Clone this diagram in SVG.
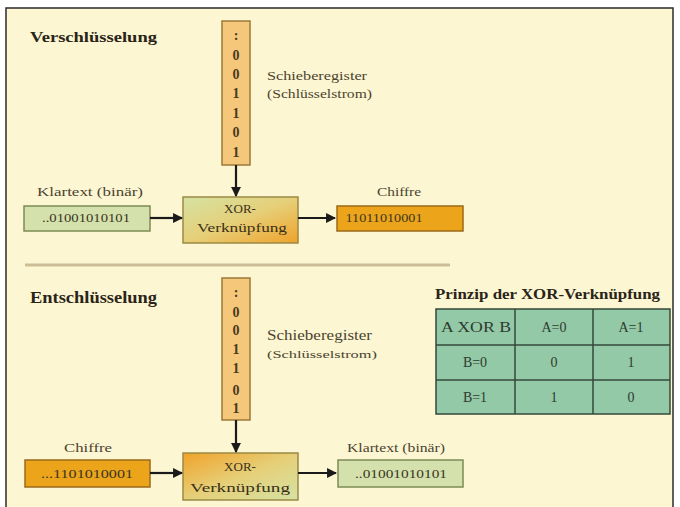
<svg xmlns="http://www.w3.org/2000/svg" width="680" height="507" viewBox="0 0 680 507">
<style>
text{font-family:"Liberation Serif","DejaVu Serif",serif;fill:#2a2418}
.h{font-weight:bold;font-size:15px}
.lbl{font-size:13px;fill:#4a4430}
.bin{font-size:12px;text-anchor:middle;fill:#3a3420}
.dig{font-size:14px;text-anchor:middle;font-weight:bold;fill:#4a3a20}
.reg{fill:#f5c77a;stroke:#9a7a3a;stroke-width:1.5}
.kl{fill:#d4e1ad;stroke:#7c8a55;stroke-width:1.5}
.ch{fill:#eca51b;stroke:#9a6a1a;stroke-width:1.5}
.xor{stroke:#9a8a45;stroke-width:1.5}
.xt{font-size:13px;text-anchor:middle;fill:#3a3018}
.tc{font-size:14px;text-anchor:middle;fill:#2f3a30}
.conn line{stroke:#1a1a1a;stroke-width:2.2}
</style>
<defs>
<marker id="ah" viewBox="0 0 10 10" refX="9" refY="5" markerWidth="4.5" markerHeight="4.5" orient="auto"><path d="M0,0L10,5L0,10z" fill="#1a1a1a"/></marker>
<linearGradient id="g1" x1="0" y1="0" x2="1" y2="1"><stop offset="0" stop-color="#d5e2a3"/><stop offset="0.5" stop-color="#e6cf78"/><stop offset="1" stop-color="#f0a22a"/></linearGradient>
<linearGradient id="g2" x1="0" y1="0" x2="1" y2="1"><stop offset="0" stop-color="#f0a22a"/><stop offset="0.5" stop-color="#e6cf78"/><stop offset="1" stop-color="#d5e2a3"/></linearGradient>
</defs>
<rect x="0" y="0" width="680" height="507" fill="#ffffff"/>
<rect x="6" y="8" width="667" height="510" fill="#fdf6d2" stroke="#2a2a2a" stroke-width="1.5"/>

<g id="title-enc"><text x="30" y="42" class="h" textLength="127" lengthAdjust="spacingAndGlyphs">Verschlüsselung</text></g>
<g id="title-dec"><text x="30" y="303" class="h" style="font-size:16px" textLength="127" lengthAdjust="spacingAndGlyphs">Entschlüsselung</text></g>

<g id="reg1">
<rect x="222" y="21" width="28" height="144" class="reg"/>
<text x="236" y="40" class="dig">:</text>
<text x="236" y="60" class="dig">0</text>
<text x="236" y="79" class="dig">0</text>
<text x="236" y="98" class="dig">1</text>
<text x="236" y="118" class="dig">1</text>
<text x="236" y="137" class="dig">0</text>
<text x="236" y="157" class="dig">1</text>
</g>
<g id="reg1-label">
<text x="267" y="80" class="lbl" textLength="100" lengthAdjust="spacingAndGlyphs">Schieberegister</text>
<text x="267" y="98" class="lbl" textLength="105" lengthAdjust="spacingAndGlyphs">(Schlüsselstrom)</text>
</g>

<g id="klar1">
<text x="37" y="196" class="lbl" textLength="106" lengthAdjust="spacingAndGlyphs">Klartext (binär)</text>
<rect x="24" y="206" width="126" height="25" class="kl"/>
<text x="86" y="222" class="bin" textLength="88" lengthAdjust="spacingAndGlyphs">..01001010101</text>
</g>

<g id="xor1">
<rect x="183" y="197" width="115" height="46" fill="url(#g1)" class="xor"/>
<text x="240" y="213" class="xt">XOR-</text>
<text x="242" y="232" class="xt" textLength="90" lengthAdjust="spacingAndGlyphs">Verknüpfung</text>
</g>

<g id="chiffre1">
<text x="399" y="196" class="lbl" style="text-anchor:middle" textLength="44" lengthAdjust="spacingAndGlyphs">Chiffre</text>
<rect x="337" y="206" width="126" height="25" class="ch"/>
<text x="384" y="222" class="bin" textLength="77" lengthAdjust="spacingAndGlyphs">11011010001</text>
</g>

<line x1="25" y1="265" x2="450" y2="265" stroke="#cbbd95" stroke-width="3"/>

<g id="reg2">
<rect x="222" y="278" width="28" height="142" class="reg"/>
<text x="236" y="297" class="dig">:</text>
<text x="236" y="317" class="dig">0</text>
<text x="236" y="335" class="dig">0</text>
<text x="236" y="354" class="dig">1</text>
<text x="236" y="373" class="dig">1</text>
<text x="236" y="395" class="dig">0</text>
<text x="236" y="413" class="dig">1</text>
</g>
<g id="reg2-label">
<text x="267" y="340" class="lbl" style="font-size:15px" textLength="105" lengthAdjust="spacingAndGlyphs">Schieberegister</text>
<text x="267" y="358" class="lbl" style="font-size:11px" textLength="110" lengthAdjust="spacingAndGlyphs">(Schlüsselstrom)</text>
</g>

<g id="chiffre2">
<text x="88" y="452" class="lbl" style="font-size:12px;text-anchor:middle" textLength="48" lengthAdjust="spacingAndGlyphs">Chiffre</text>
<rect x="25" y="460" width="125" height="27" class="ch"/>
<text x="87" y="478" class="bin" style="font-size:13px" textLength="92" lengthAdjust="spacingAndGlyphs">...1101010001</text>
</g>

<g id="xor2">
<rect x="183" y="453" width="115" height="47" fill="url(#g2)" class="xor"/>
<text x="240" y="471" class="xt">XOR-</text>
<text x="240" y="492" class="xt" style="font-size:12px" textLength="100" lengthAdjust="spacingAndGlyphs">Verknüpfung</text>
</g>

<g id="klar2">
<text x="396" y="452" class="lbl" style="font-size:12px;text-anchor:middle" textLength="98" lengthAdjust="spacingAndGlyphs">Klartext (binär)</text>
<rect x="338" y="460" width="125" height="27" class="kl"/>
<text x="401" y="478" class="bin" style="font-size:13px" textLength="92" lengthAdjust="spacingAndGlyphs">..01001010101</text>
</g>

<g id="table">
<text x="435" y="299" class="h" style="font-size:14px" textLength="225" lengthAdjust="spacingAndGlyphs">Prinzip der XOR-Verknüpfung</text>
<rect x="436" y="309" width="234" height="105" fill="#93c9a6" stroke="#33483a" stroke-width="1.5"/>
<line x1="515" y1="309" x2="515" y2="414" stroke="#33483a" stroke-width="1.5"/>
<line x1="593" y1="309" x2="593" y2="414" stroke="#33483a" stroke-width="1.5"/>
<line x1="436" y1="345" x2="670" y2="345" stroke="#33483a" stroke-width="1.5"/>
<line x1="436" y1="380" x2="670" y2="380" stroke="#33483a" stroke-width="1.5"/>
<text x="476" y="332" class="tc" textLength="70" lengthAdjust="spacingAndGlyphs">A XOR B</text>
<text x="554" y="332" class="tc">A=0</text>
<text x="631" y="332" class="tc">A=1</text>
<text x="475" y="367" class="tc">B=0</text>
<text x="554" y="367" class="tc">0</text>
<text x="631" y="367" class="tc">1</text>
<text x="475" y="402" class="tc">B=1</text>
<text x="554" y="402" class="tc">1</text>
<text x="631" y="402" class="tc">0</text>
</g>

<g id="connectors" class="conn">
<line x1="236" y1="165" x2="236" y2="196" marker-end="url(#ah)"/>
<line x1="150" y1="218" x2="182" y2="218" marker-end="url(#ah)"/>
<line x1="298" y1="218" x2="335" y2="218" marker-end="url(#ah)"/>
<line x1="236" y1="420" x2="236" y2="452" marker-end="url(#ah)"/>
<line x1="150" y1="473" x2="182" y2="473" marker-end="url(#ah)"/>
<line x1="298" y1="473" x2="336" y2="473" marker-end="url(#ah)"/>
</g>
</svg>
